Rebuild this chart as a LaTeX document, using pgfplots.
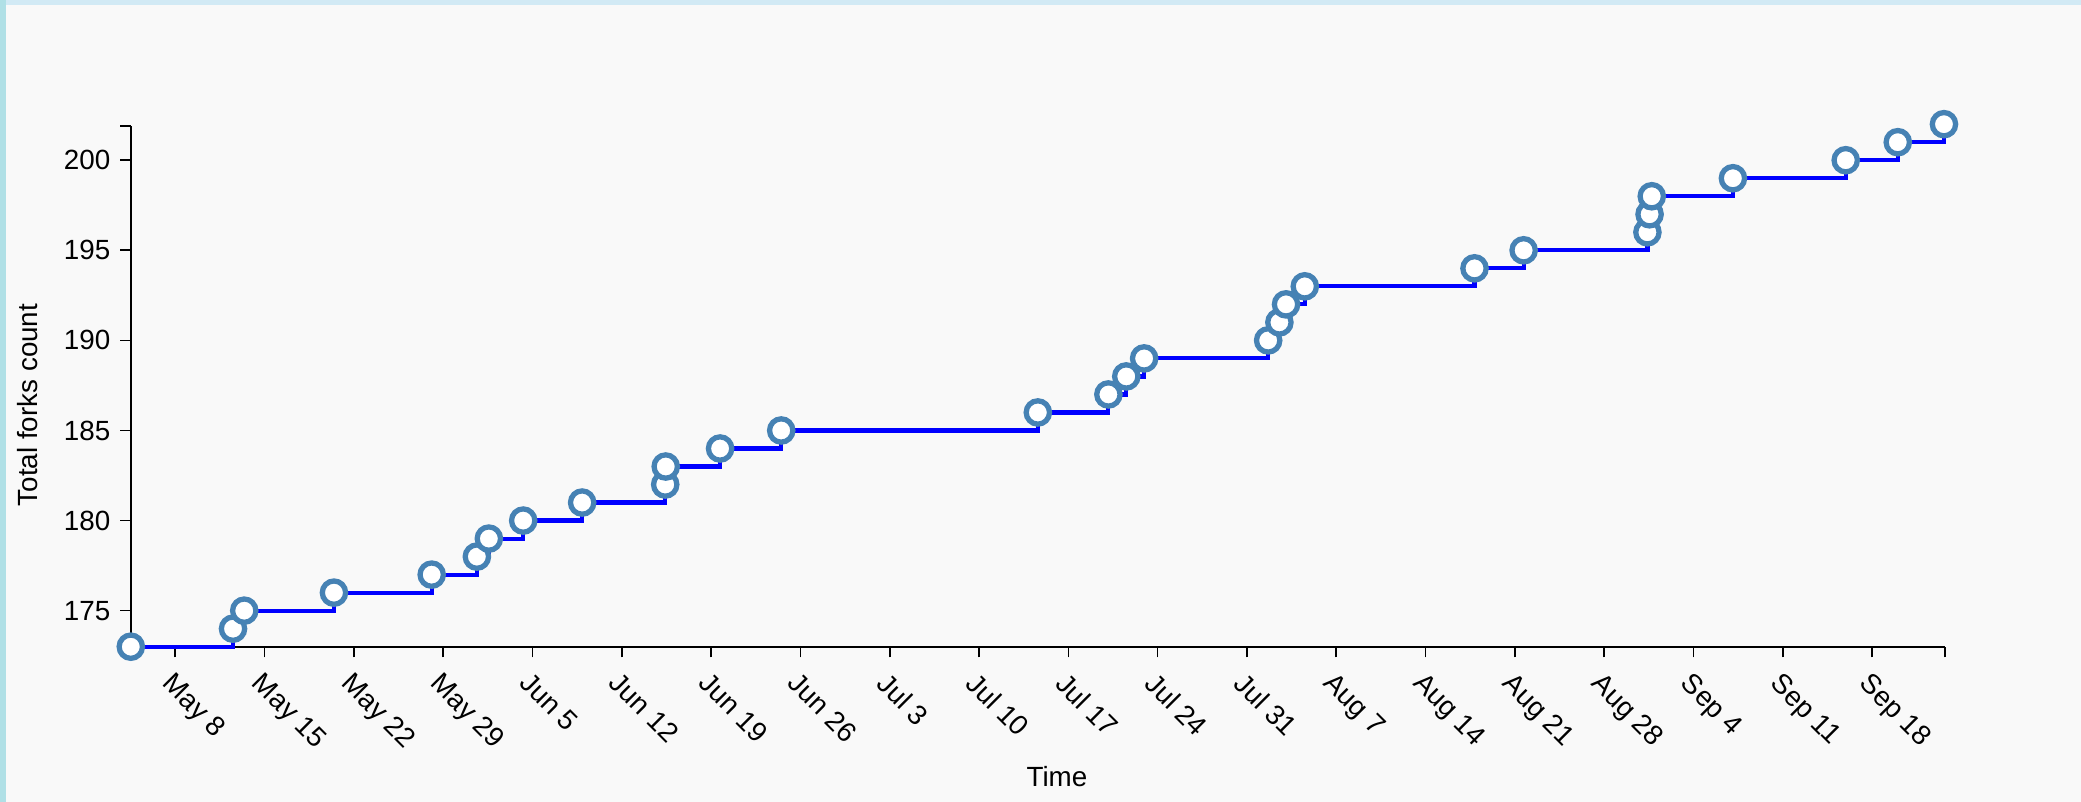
\documentclass[border=0pt]{standalone}
\usepackage{fontspec}
\setmainfont{Liberation Sans}
\usepackage{pgfplots}
\pgfplotsset{compat=1.18}
\definecolor{steelblue}{HTML}{4682B4}
\definecolor{panel}{HTML}{F9F9F9}
\definecolor{edgeleft}{HTML}{B0E0E6}
\definecolor{edgetop}{HTML}{D2EAF5}

% days counted from May 8
\pgfplotstableread{
day    forks
-3.47  173
4.54   174
5.42   175
12.45  176
20.11  177
23.65  178
24.59  179
27.28  180
31.90  181
38.41  182
38.45  183
42.71  184
47.50  185
67.61  186
73.14  187
74.54  188
75.94  189
85.66  190
86.54  191
87.06  192
88.53  193
101.83 194
105.68 195
115.38 196
115.55 197
115.72 198
122.08 199
130.92 200
135.00 201
138.62 202
}\forks

\begin{document}
\begin{tikzpicture}
  \path[use as bounding box, fill=panel] (-47.09pt,-55.91pt) rectangle (702.07pt,232.81pt);
  \fill[edgeleft] (-47.09pt,-55.91pt) rectangle (-44.93pt,232.81pt);
  \fill[edgetop] (-44.93pt,231.01pt) rectangle (702.07pt,232.81pt);
  \begin{axis}[
    scale only axis,
    width=653.1pt, height=187.45pt,
    xmin=-3.47, xmax=138.7,
    ymin=173, ymax=201.9,
    axis x line=bottom, axis y line=left,
    axis line style={-, line width=0.7pt, black},
    tick align=outside,
    major tick length=3.85pt,
    tick style={black, line width=0.6pt},
    xtick={0,7,...,133},
    xticklabels={May 8,May 15,May 22,May 29,Jun 5,Jun 12,Jun 19,Jun 26,Jul 3,Jul 10,Jul 17,Jul 24,Jul 31,Aug 7,Aug 14,Aug 21,Aug 28,Sep 4,Sep 11,Sep 18},
    ytick={175,180,...,200},
    extra x ticks={138.7}, extra x tick labels={},
    extra y ticks={201.9}, extra y tick labels={},
    xticklabel style={rotate=-45, anchor=north west, font=\fontsize{10}{12}\selectfont},
    yticklabel style={font=\fontsize{10}{12}\selectfont},
    /pgf/number format/assume math mode=true,
    clip=false,
  ]
    \addplot[const plot, blue, line width=1.5pt,
      mark=*, mark size=4.2pt,
      mark options={draw=steelblue, fill=white, line width=1.9pt}]
      table[x=day, y=forks] {\forks};
  \end{axis}
  \node[font=\fontsize{10}{12}\selectfont] at (333.4pt,-46.8pt) {Time};
  \node[font=\fontsize{10}{12}\selectfont, rotate=90] at (-37.0pt,87.0pt) {Total forks count};
\end{tikzpicture}
\end{document}
